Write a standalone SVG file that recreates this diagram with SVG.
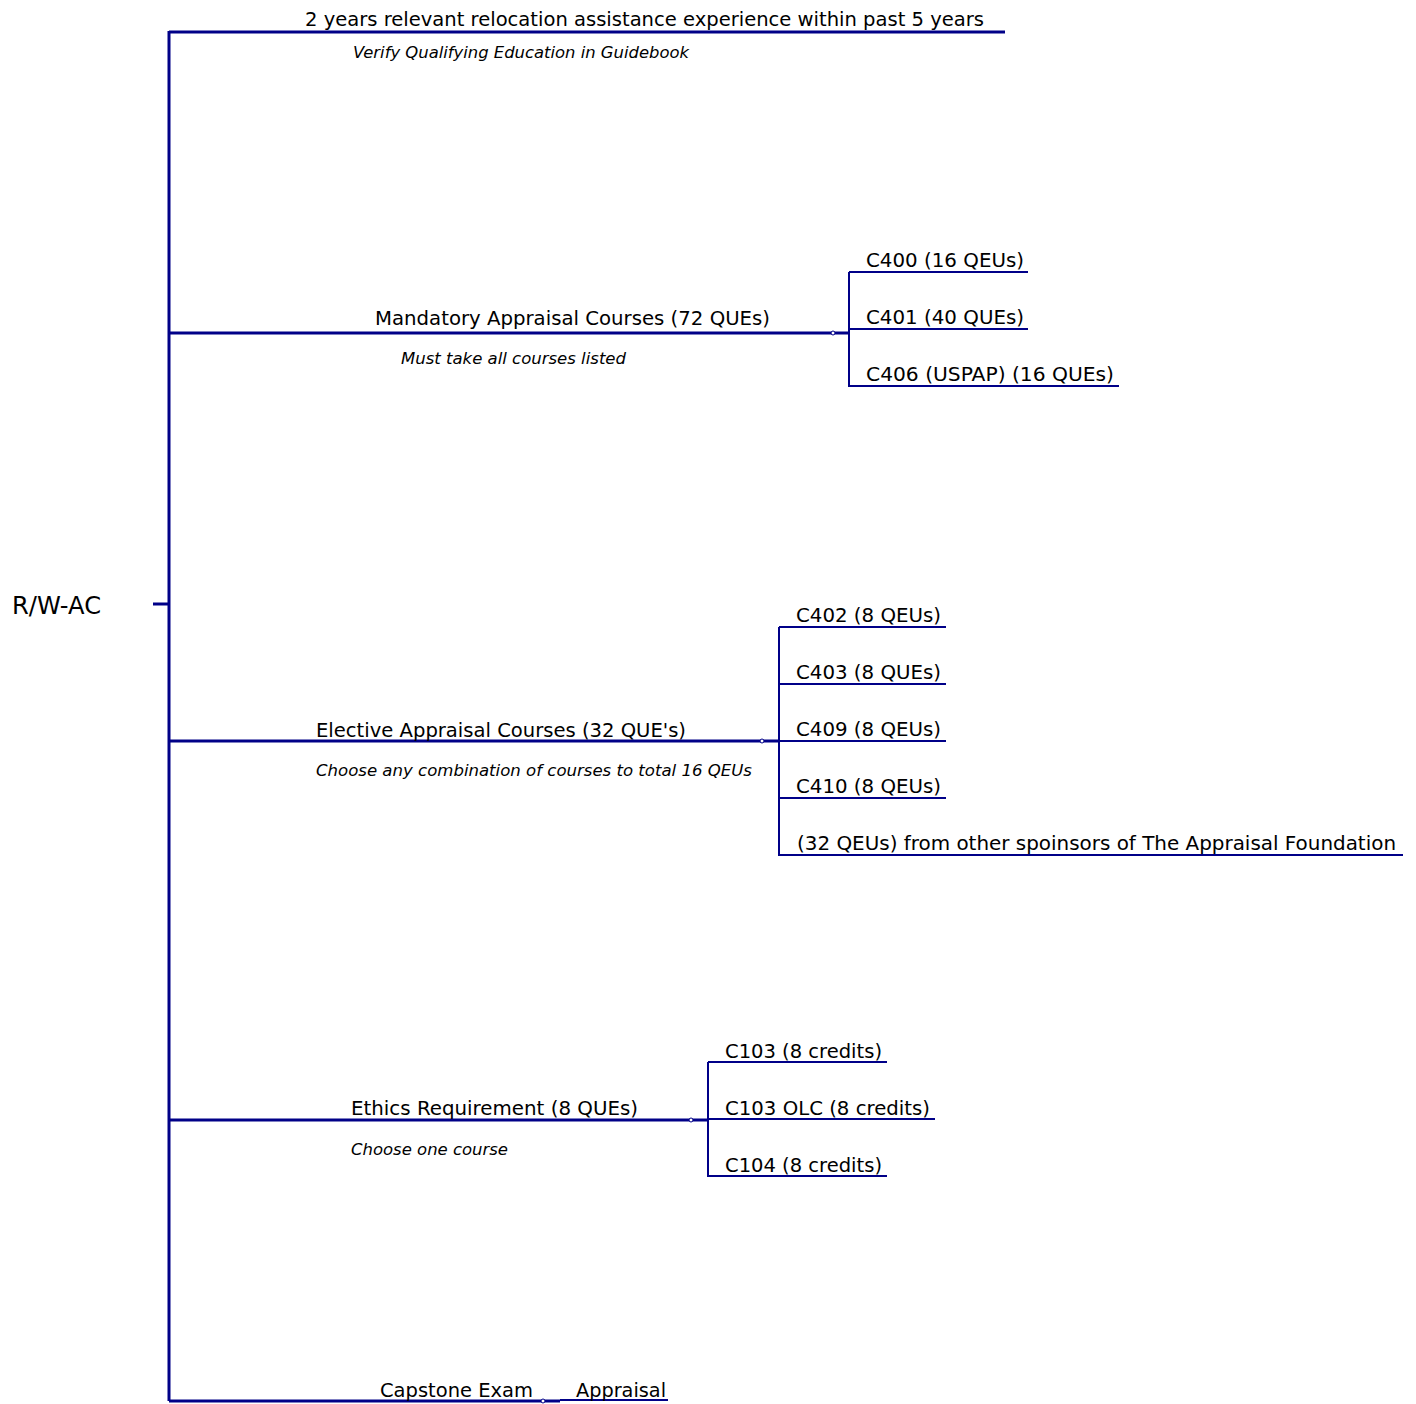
<svg xmlns="http://www.w3.org/2000/svg" width="1416" height="1404" viewBox="0 0 1416 1404">
<style>
.t{font-family:"DejaVu Sans","Liberation Sans",Arial,sans-serif;font-size:20px;fill:#000}
.n{font-family:"DejaVu Sans","Liberation Sans",Arial,sans-serif;font-size:16px;font-style:italic;fill:#000}
.r{font-family:"DejaVu Sans","Liberation Sans",Arial,sans-serif;font-size:24px;fill:#000}
.m{stroke:#000088;stroke-width:3;fill:none}
.c{stroke:#000088;stroke-width:2;fill:none}
.d{fill:#fff;stroke:#000088;stroke-width:1}
</style>
<rect width="1416" height="1404" fill="#fff"/>
<g id="connectors">
<path class="m" d="M153,604H169M169,31V1401"/>
<path class="m" d="M169,32H1005"/>
<path class="m" d="M169,333H849"/>
<path class="c" d="M849,272V387M849,272H1028M849,329H1028M849,386H1119"/>
<path class="m" d="M169,741H779"/>
<path class="c" d="M779,627V856M779,627H946M779,684H946M779,741H946M779,798H946M779,855H1403"/>
<path class="m" d="M169,1120H708"/>
<path class="c" d="M708,1062V1177M708,1062H887M708,1119H935M708,1176H887"/>
<path class="m" d="M169,1401H560"/>
<path class="c" d="M560,1400H668"/>
<circle class="d" cx="833" cy="333" r="2"/>
<circle class="d" cx="762" cy="741" r="2"/>
<circle class="d" cx="691" cy="1120" r="2"/>
<circle class="d" cx="543" cy="1401" r="2"/>
</g>
<g id="root"><text class="r" x="12" y="614" textLength="89" lengthAdjust="spacingAndGlyphs">R/W-AC</text></g>
<g id="experience">
<text class="t" x="305" y="26" textLength="679" lengthAdjust="spacingAndGlyphs">2 years relevant relocation assistance experience within past 5 years</text>
<text class="n" x="353" y="58" textLength="336" lengthAdjust="spacingAndGlyphs">Verify Qualifying Education in Guidebook</text>
</g>
<g id="mandatory">
<text class="t" x="375" y="325" textLength="395" lengthAdjust="spacingAndGlyphs">Mandatory Appraisal Courses (72 QUEs)</text>
<text class="n" x="401" y="364" textLength="225" lengthAdjust="spacingAndGlyphs">Must take all courses listed</text>
</g>
<g id="c400"><text class="t" x="866" y="267" textLength="158" lengthAdjust="spacingAndGlyphs">C400 (16 QEUs)</text></g>
<g id="c401"><text class="t" x="866" y="324" textLength="158" lengthAdjust="spacingAndGlyphs">C401 (40 QUEs)</text></g>
<g id="c406"><text class="t" x="866" y="381" textLength="248" lengthAdjust="spacingAndGlyphs">C406 (USPAP) (16 QUEs)</text></g>
<g id="elective">
<text class="t" x="316" y="737" textLength="370" lengthAdjust="spacingAndGlyphs">Elective Appraisal Courses (32 QUE's)</text>
<text class="n" x="316" y="776" textLength="436" lengthAdjust="spacingAndGlyphs">Choose any combination of courses to total 16 QEUs</text>
</g>
<g id="c402"><text class="t" x="796" y="622" textLength="145" lengthAdjust="spacingAndGlyphs">C402 (8 QEUs)</text></g>
<g id="c403"><text class="t" x="796" y="679" textLength="145" lengthAdjust="spacingAndGlyphs">C403 (8 QUEs)</text></g>
<g id="c409"><text class="t" x="796" y="736" textLength="145" lengthAdjust="spacingAndGlyphs">C409 (8 QEUs)</text></g>
<g id="c410"><text class="t" x="796" y="793" textLength="145" lengthAdjust="spacingAndGlyphs">C410 (8 QEUs)</text></g>
<g id="other"><text class="t" x="797" y="850" textLength="599" lengthAdjust="spacingAndGlyphs">(32 QEUs) from other spoinsors of The Appraisal Foundation</text></g>
<g id="ethics">
<text class="t" x="351" y="1115" textLength="287" lengthAdjust="spacingAndGlyphs">Ethics Requirement (8 QUEs)</text>
<text class="n" x="351" y="1155" textLength="157" lengthAdjust="spacingAndGlyphs">Choose one course</text>
</g>
<g id="c103"><text class="t" x="725" y="1058" textLength="157" lengthAdjust="spacingAndGlyphs">C103 (8 credits)</text></g>
<g id="c103olc"><text class="t" x="725" y="1115" textLength="205" lengthAdjust="spacingAndGlyphs">C103 OLC (8 credits)</text></g>
<g id="c104"><text class="t" x="725" y="1172" textLength="157" lengthAdjust="spacingAndGlyphs">C104 (8 credits)</text></g>
<g id="capstone"><text class="t" x="380" y="1397" textLength="153" lengthAdjust="spacingAndGlyphs">Capstone Exam</text></g>
<g id="appraisal"><text class="t" x="576" y="1397" textLength="90" lengthAdjust="spacingAndGlyphs">Appraisal</text></g>
</svg>
